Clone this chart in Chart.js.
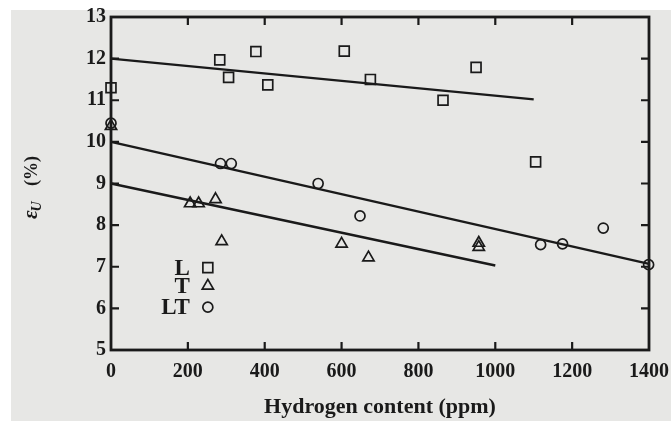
<!DOCTYPE html>
<html>
<head>
<meta charset="utf-8">
<script src="https://cdn.jsdelivr.net/npm/chart.js@4"></script>
<style>
  html, body { margin: 0; padding: 0; background: #fff; }
  #wrap { position: absolute; left: 0; top: 0; width: 671px; height: 421px; }
  #bg { position: absolute; left: 11px; top: 10px; right: 0; bottom: 0; background: #e7e7e5; }
  canvas { position: absolute; left: 0; top: 0; }
</style>
</head>
<body>
<div id="wrap">
  <div id="bg"></div>
  <canvas id="chart" width="671" height="421"></canvas>
</div>
<script>
// L (squares)
const lX = [0, 283, 306, 377, 408, 607, 675, 864, 950, 1105];
const lY = [11.3, 11.97, 11.55, 12.17, 11.37, 12.18, 11.5, 11.0, 11.79, 9.52];
// T (triangles)
const tX = [0, 206, 228, 272, 288, 600, 670, 957, 957];
const tY = [10.38, 8.52, 8.52, 8.62, 7.61, 7.55, 7.22, 7.57, 7.47];
// LT (circles)
const ltX = [0, 285, 313, 539, 648, 1118, 1175, 1281, 1399];
const ltY = [10.45, 9.48, 9.48, 9.0, 8.22, 7.53, 7.55, 7.93, 7.05];

// fitted lines (end points)
const lFitX = [0, 1100], lFitY = [12.0, 11.02];
const tFitX = [0, 1000], tFitY = [9.0, 7.03];
const ltFitX = [0, 1400], ltFitY = [10.0, 7.07];

const xTicks = [0, 200, 400, 600, 800, 1000, 1200, 1400];
const yTicks = [5, 6, 7, 8, 9, 10, 11, 12, 13];

const ink = '#1a1a1a';
const serif = '"Liberation Serif", "Times New Roman", serif';

function pts(xs, ys) {
    return xs.map((x, i) => ({ x: x, y: ys[i] }));
}

function marks(label, xs, ys, style, r) {
    return {
        type: 'scatter',
        label: label,
        data: pts(xs, ys),
        pointStyle: style,
        pointRadius: r,
        pointBorderWidth: 1.7,
        pointBorderColor: ink,
        pointBackgroundColor: 'rgba(0,0,0,0)',
        showLine: false,
        clip: false
    };
}

function fit(xs, ys) {
    return {
        type: 'line',
        data: pts(xs, ys),
        borderColor: ink,
        borderWidth: 2.4,
        pointRadius: 0,
        fill: false,
        clip: false
    };
}

// frame, inward ticks, y title and the key
const decor = {
    id: 'decor',
    afterDraw(chart) {
        const ctx = chart.ctx;
        const a = chart.chartArea;
        const xs = chart.scales.x, ys = chart.scales.y;
        ctx.save();
        ctx.strokeStyle = ink;
        ctx.lineWidth = 2.8;
        ctx.strokeRect(a.left, a.top, a.right - a.left, a.bottom - a.top);
        ctx.lineWidth = 2.2;
        const len = 8;
        xTicks.forEach(v => {
            const px = xs.getPixelForValue(v);
            if (v === xTicks[0] || v === xTicks[xTicks.length - 1]) return;
            ctx.beginPath();
            ctx.moveTo(px, a.bottom); ctx.lineTo(px, a.bottom - len);
            ctx.moveTo(px, a.top); ctx.lineTo(px, a.top + len);
            ctx.stroke();
        });
        yTicks.forEach(v => {
            const py = ys.getPixelForValue(v);
            if (v === yTicks[0] || v === yTicks[yTicks.length - 1]) return;
            ctx.beginPath();
            ctx.moveTo(a.left, py); ctx.lineTo(a.left + len, py);
            ctx.moveTo(a.right, py); ctx.lineTo(a.right - len, py);
            ctx.stroke();
        });

        // y title: eps_U (%)
        ctx.fillStyle = ink;
        ctx.translate(32, 219);
        ctx.rotate(-Math.PI / 2);
        ctx.textBaseline = 'middle';
        ctx.textAlign = 'left';
        ctx.font = 'italic bold 21px ' + serif;
        ctx.fillText('\u03B5', 0, 0);
        const w1 = ctx.measureText('\u03B5').width;
        ctx.font = 'italic bold 14px ' + serif;
        ctx.fillText('U', w1 - 1, 5);
        ctx.font = 'bold 18px ' + serif;
        ctx.fillText('(%)', 33, 0);
        ctx.restore();

        // key
        ctx.save();
        ctx.strokeStyle = ink;
        ctx.lineWidth = 1.7;
        ctx.font = 'bold 23px ' + serif;
        ctx.textAlign = 'right';
        ctx.textBaseline = 'middle';
        const kx = xs.getPixelForValue(252);
        const keys = [['L', 6.98, 'rect', 7], ['T', 6.54, 'triangle', 6.5], ['LT', 6.03, 'circle', 5]];
        keys.forEach(k => {
            const py = ys.getPixelForValue(k[1]);
            ctx.fillStyle = ink;
            ctx.fillText(k[0], kx - 18, py + 1);
            ctx.fillStyle = 'rgba(0,0,0,0)';
            Chart.helpers.drawPoint(ctx, { pointStyle: k[2], radius: k[3], borderWidth: 1.7 }, kx, py);
        });
        ctx.restore();
    }
};

new Chart(document.getElementById('chart'), {
    data: {
        datasets: [
            marks('L', lX, lY, 'rect', 7),
            marks('T', tX, tY, 'triangle', 6.5),
            marks('LT', ltX, ltY, 'circle', 5),
            fit(lFitX, lFitY),
            fit(tFitX, tFitY),
            fit(ltFitX, ltFitY)
        ]
    },
    options: {
        responsive: false,
        animation: false,
        layout: { padding: { top: 17, right: 22, left: 0, bottom: 0 } },
        plugins: {
            legend: { display: false },
            tooltip: { enabled: false }
        },
        scales: {
            x: {
                type: 'linear',
                min: 0,
                max: 1400,
                afterFit: s => { s.height = 71; s.paddingLeft = 0; s.paddingRight = 0; },
                afterBuildTicks: s => { s.ticks = xTicks.map(v => ({ value: v })); },
                grid: { display: false, drawTicks: false },
                border: { display: false },
                ticks: { color: ink, font: { family: serif, size: 20, weight: 'bold' }, padding: 10, maxRotation: 0, callback: v => String(v) },
                title: {
                    display: true,
                    text: 'Hydrogen content (ppm)',
                    color: ink,
                    font: { family: serif, size: 22, weight: 'bold' },
                    padding: { top: 0, bottom: 0 }
                }
            },
            y: {
                type: 'linear',
                min: 5,
                max: 13,
                afterFit: s => { s.width = 111; s.paddingTop = 0; s.paddingBottom = 0; },
                afterBuildTicks: s => { s.ticks = yTicks.map(v => ({ value: v })); },
                grid: { display: false, drawTicks: false },
                border: { display: false },
                ticks: { color: ink, font: { family: serif, size: 20, weight: 'bold' }, padding: 5, callback: v => String(v) }
            }
        }
    },
    plugins: [decor]
});
</script>
</body>
</html>
